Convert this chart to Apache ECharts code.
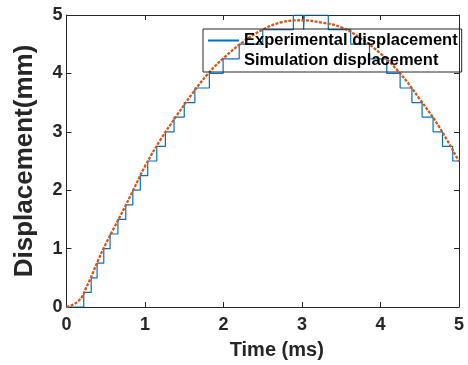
<!DOCTYPE html>
<html>
<head>
<meta charset="utf-8">
<script src="https://cdn.jsdelivr.net/npm/echarts@6/dist/echarts.min.js"></script>
<style>
html,body{margin:0;padding:0;background:#fff;}
#chart{width:468px;height:365px;}
</style>
</head>
<body>
<div id="chart"></div>
<script>
// Tick labels
const xTicks = [0, 1, 2, 3, 4, 5];
const yTicks = [0, 1, 2, 3, 4, 5];

// Simulation displacement
const simTime = [0, 0.05, 0.1, 0.15, 0.2, 0.25, 0.3, 0.4, 0.5, 0.6, 0.75, 0.85, 1.0, 1.2, 1.4, 1.6, 1.8, 2.0, 2.25, 2.5, 2.75, 3.0, 3.25, 3.5, 3.75, 4.0, 4.25, 4.5, 4.75, 5.0];
const simDisp = [0, 0.02, 0.05, 0.1, 0.18, 0.33, 0.47, 0.79, 1.08, 1.34, 1.73, 2.0, 2.41, 2.87, 3.27, 3.65, 3.99, 4.26, 4.54, 4.75, 4.88, 4.91, 4.87, 4.79, 4.60, 4.34, 4.0, 3.56, 3.08, 2.49];

// Experimental displacement: time at which each level starts
const expTime = [0, 0.22, 0.315, 0.39, 0.475, 0.555, 0.655, 0.755, 0.845, 0.94, 1.035, 1.15, 1.26, 1.37, 1.50, 1.635, 1.82, 1.995, 2.20, 2.50, 2.89, 3.02, 3.03, 3.335, 3.62, 3.86, 4.08, 4.25, 4.40, 4.53, 4.67, 4.79, 4.92, 5.0];
const expDisp = [0, 0.25, 0.5, 0.75, 1.0, 1.25, 1.5, 1.75, 2.0, 2.25, 2.5, 2.75, 3.0, 3.25, 3.5, 3.75, 4.0, 4.25, 4.5, 4.75, 5.0, 4.75, 5.0, 4.75, 4.5, 4.25, 4.0, 3.75, 3.5, 3.25, 3.0, 2.75, 2.5, 2.5];

const seriesNames = ['Experimental displacement', 'Simulation displacement'];

const axisColor = '#262626';
const fontFam = '"Liberation Sans", Arial, sans-serif';

const chart = echarts.init(document.getElementById('chart'), null, {renderer: 'canvas'});

const baseX = {
  type: 'value', min: xTicks[0], max: xTicks[xTicks.length - 1], interval: 1,
  axisLine: {show: true, onZero: false, lineStyle: {color: axisColor, width: 1}},
  axisTick: {show: true, inside: true, length: 5, lineStyle: {color: axisColor}},
  splitLine: {show: false}
};
const baseY = {
  type: 'value', min: yTicks[0], max: yTicks[yTicks.length - 1], interval: 1,
  axisLine: {show: true, onZero: false, lineStyle: {color: axisColor, width: 1}},
  axisTick: {show: true, inside: true, length: 5, lineStyle: {color: axisColor}},
  splitLine: {show: false}
};

chart.setOption({
  animation: false,
  backgroundColor: '#fff',
  grid: {left: 66.5, right: 9, top: 15, bottom: 56, containLabel: false},
  legend: {
    orient: 'vertical',
    left: 203, top: 29,
    padding: [3, 4, 3, 4],
    itemWidth: 31, itemHeight: 14, itemGap: 3,
    borderColor: axisColor, borderWidth: 1,
    backgroundColor: 'transparent',
    textStyle: {fontFamily: fontFam, fontWeight: 'bold', fontSize: 16.5, color: '#000'},
    data: [
      {name: seriesNames[0], itemStyle: {opacity: 0}},
      {name: seriesNames[1], itemStyle: {opacity: 0}, lineStyle: {opacity: 0}}
    ]
  },
  xAxis: [
    Object.assign({}, baseX, {
      position: 'bottom',
      name: 'Time (ms)', nameLocation: 'middle', nameGap: 33,
      nameTextStyle: {fontFamily: fontFam, fontWeight: 'bold', fontSize: 20, color: '#262626', padding: [0, 0, 0, 28]},
      axisLabel: {show: true, margin: 9, fontFamily: fontFam, fontWeight: 'bold', fontSize: 18, color: '#262626'}
    }),
    Object.assign({}, baseX, {position: 'top', axisLabel: {show: false}})
  ],
  yAxis: [
    Object.assign({}, baseY, {
      position: 'left',
      name: 'Displacement(mm)', nameLocation: 'middle', nameGap: 29,
      nameTextStyle: {fontFamily: fontFam, fontWeight: 'bold', fontSize: 26, color: '#262626'},
      axisLabel: {show: true, margin: 4, fontFamily: fontFam, fontWeight: 'bold', fontSize: 18, color: '#262626'}
    }),
    Object.assign({}, baseY, {position: 'right', axisLabel: {show: false}})
  ],
  series: [
    {
      name: seriesNames[0], type: 'line', step: 'end',
      data: expTime.map((t, i) => [t, expDisp[i]]),
      showSymbol: false, symbol: 'none',
      lineStyle: {color: '#0072BD', width: 1.2},
      itemStyle: {color: '#0072BD'},
      z: 2
    },
    {
      name: seriesNames[1], type: 'line', smooth: 0.4,
      data: simTime.map((t, i) => [t, simDisp[i]]),
      showSymbol: false, symbol: 'none',
      lineStyle: {color: '#D95319', width: 2.3, type: [3, 1.4]},
      itemStyle: {color: '#D95319'},
      z: 3
    }
  ]
});
</script>
</body>
</html>
